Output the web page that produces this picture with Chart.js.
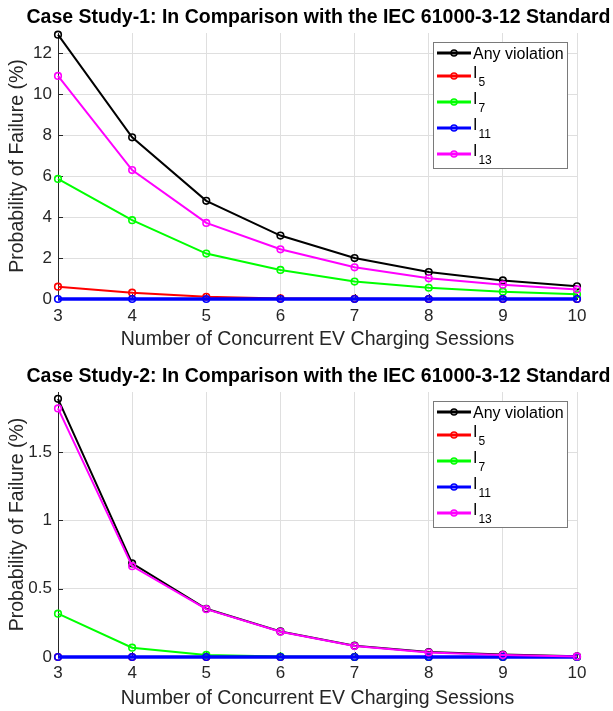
<!DOCTYPE html>
<html>
<head>
<meta charset="utf-8">
<script src="https://cdn.jsdelivr.net/npm/chart.js@4"></script>
<style>
  body { margin: 0; background: #fff; }
  canvas { display: block; }
</style>
</head>
<body>
<canvas id="case1" width="613" height="355"></canvas>
<canvas id="case2" width="613" height="356"></canvas>
<script>
// x categories: number of concurrent sessions
var sessions = [3, 4, 5, 6, 7, 8, 9, 10];
var seriesNames = ['Any violation', 'I_5', 'I_7', 'I_11', 'I_13'];
var seriesColors = ['#000000', '#ff0000', '#00ff00', '#0000ff', '#ff00ff'];
var seriesWidths = [2, 2, 2, 3.5, 2];

// case study 1 (probability of failure, %)
var case1Any = [12.92, 7.9, 4.8, 3.1, 2.0, 1.32, 0.91, 0.62];
var case1I5 = [0.6, 0.31, 0.11, 0.03, 0.01, 0, 0, 0];
var case1I7 = [5.87, 3.85, 2.22, 1.42, 0.85, 0.55, 0.36, 0.23];
var case1I11 = [0, 0, 0, 0, 0, 0, 0, 0];
var case1I13 = [10.9, 6.3, 3.72, 2.43, 1.55, 1.01, 0.70, 0.47];
var case1YMax = 13;
var case1YTicks = [0, 2, 4, 6, 8, 10, 12];

// case study 2
var case2Any = [1.89, 0.685, 0.353, 0.187, 0.083, 0.036, 0.018, 0.005];
var case2I5 = [0, 0, 0, 0, 0, 0, 0, 0];
var case2I7 = [0.317, 0.068, 0.015, 0.003, 0, 0, 0, 0];
var case2I11 = [0, 0, 0, 0, 0, 0, 0, 0];
var case2I13 = [1.82, 0.665, 0.35, 0.185, 0.08, 0.033, 0.014, 0.004];
var case2YMax = 1.94;
var case2YTicks = [0, 0.5, 1, 1.5];

var FONT = '"Liberation Sans", Arial, Helvetica, sans-serif';
var AXIS_COLOR = '#262626';
var GRID_COLOR = '#dfdfdf';

//matlab style legend drawn inside the axes + inward tick marks
var matlabDecor = {
    id: 'matlabDecor',
    afterLayout: function (chart) {
        // center the title over the axes without squeezing it
        var area = chart.chartArea;
        var mid = (area.left + area.right) / 2 + 1;
        chart.titleBlock.left = mid - 330;
        chart.titleBlock.right = mid + 330;
    },
    beforeDatasetsDraw: function (chart) {
        var ctx = chart.ctx, area = chart.chartArea;
        var xs = chart.scales.x, ys = chart.scales.y;
        ctx.save();
        ctx.strokeStyle = AXIS_COLOR;
        ctx.lineWidth = 1;
        ctx.beginPath();
        ys.ticks.forEach(function (t) {
            var py = Math.round(ys.getPixelForValue(t.value)) + 0.5;
            ctx.moveTo(area.left, py);
            ctx.lineTo(area.left + 5, py);
        });
        xs.ticks.forEach(function (t, i) {
            var px = Math.round(xs.getPixelForTick(i)) + 0.5;
            ctx.moveTo(px, area.bottom);
            ctx.lineTo(px, area.bottom - 5);
        });
        ctx.stroke();
        ctx.restore();
    },
    afterDraw: function (chart) {
        var ctx = chart.ctx, area = chart.chartArea;
        var w = 134, h = 126;
        var left = area.right - 10 - w, top = area.top + 9;
        ctx.save();
        ctx.fillStyle = '#ffffff';
        ctx.fillRect(left, top, w, h);
        ctx.strokeStyle = '#7a7a7a';
        ctx.lineWidth = 1;
        ctx.strokeRect(Math.round(left) + 0.5, Math.round(top) + 0.5, w, h);
        var y = top + 11;
        chart.data.datasets.forEach(function (ds, i) {
            ctx.strokeStyle = ds.borderColor;
            ctx.lineWidth = 3;
            ctx.beginPath();
            ctx.moveTo(left + 4, y);
            ctx.lineTo(left + 38, y);
            ctx.stroke();
            ctx.lineWidth = 1.5;
            ctx.beginPath();
            ctx.arc(left + 21, y, 3, 0, Math.PI * 2);
            ctx.stroke();
            ctx.fillStyle = '#000';
            ctx.textAlign = 'left';
            ctx.textBaseline = 'alphabetic';
            var parts = ds.label.split('_');
            if (parts.length > 1) {
                ctx.font = '16px ' + FONT;
                ctx.fillText(parts[0], left + 40, y + 1.5);
                var wI = ctx.measureText(parts[0]).width;
                ctx.font = '12px ' + FONT;
                ctx.fillText(parts[1], left + 41 + wI, y + 9.5);
            } else {
                ctx.font = '16px ' + FONT;
                ctx.fillText(parts[0], left + 40, y + 5.8);
            }
            y += (i === 0) ? 23 : 26;
        });
        ctx.restore();
    }
};

function makeDatasets(values) {
    return values.map(function (vals, i) {
        return {
            label: seriesNames[i],
            data: vals,
            borderColor: seriesColors[i],
            borderWidth: seriesWidths[i],
            pointBorderColor: seriesColors[i],
            pointBackgroundColor: 'rgba(0,0,0,0)',
            pointRadius: 3.3,
            pointBorderWidth: 1.6,
            tension: 0,
            clip: false,
            order: values.length - 1 - i
        };
    });
}

function makeChart(canvasId, titleText, values, yMax, yTicks, lay) {
    var ctx = document.getElementById(canvasId);
    return new Chart(ctx, {
        type: 'line',
        data: {
            labels: sessions,
            datasets: makeDatasets(values)
        },
        options: {
            responsive: false,
            animation: false,
            devicePixelRatio: 1,
            layout: { padding: { left: 0, right: 36, top: 0, bottom: 0 } },
            plugins: {
                legend: { display: false },
                tooltip: { enabled: false },
                title: {
                    display: true,
                    text: titleText,
                    color: '#000',
                    font: { family: FONT, size: 19.5, weight: 'bold' },
                    padding: { top: lay.titleTop, bottom: lay.titleBottom }
                }
            },
            scales: {
                x: {
                    type: 'category',
                    offset: false,
                    grid: { color: GRID_COLOR, drawTicks: false },
                    border: { color: AXIS_COLOR },
                    ticks: {
                        color: AXIS_COLOR, font: { family: FONT, size: 17 },
                        padding: lay.xTickPad, maxRotation: 0, autoSkip: false
                    },
                    title: {
                        display: true,
                        text: 'Number of Concurrent EV Charging Sessions',
                        color: AXIS_COLOR,
                        font: { family: FONT, size: 19.5 },
                        padding: { top: 0, bottom: lay.xTitleBottom }
                    },
                    afterFit: function (s) { s.height = lay.xAxisH; }
                },
                y: {
                    min: 0,
                    max: yMax,
                    grid: { color: GRID_COLOR, drawTicks: false },
                    border: { color: AXIS_COLOR },
                    ticks: {
                        color: AXIS_COLOR, font: { family: FONT, size: 17 }, padding: 6,
                        callback: function (v) { return String(v); }
                    },
                    afterBuildTicks: function (s) {
                        s.ticks = yTicks.map(function (v) { return { value: v }; });
                    },
                    title: {
                        display: true,
                        text: 'Probability of Failure (%)',
                        color: AXIS_COLOR,
                        font: { family: FONT, size: 19.5 },
                        padding: { top: 6.3, bottom: 0 }
                    },
                    afterFit: function (s) { s.width = 58; }
                }
            }
        },
        plugins: [matlabDecor]
    });
}

makeChart('case1', 'Case Study-1: In Comparison with the IEC 61000-3-12 Standard',
    [case1Any, case1I5, case1I7, case1I11, case1I13], case1YMax, case1YTicks,
    { titleTop: 6, titleBottom: 3.6, xAxisH: 56, xTickPad: 7, xTitleBottom: 3.3 });

makeChart('case2', 'Case Study-2: In Comparison with the IEC 61000-3-12 Standard',
    [case2Any, case2I5, case2I7, case2I11, case2I13], case2YMax, case2YTicks,
    { titleTop: 10, titleBottom: 3.6, xAxisH: 54, xTickPad: 6, xTitleBottom: 0.3 });
</script>
</body>
</html>
